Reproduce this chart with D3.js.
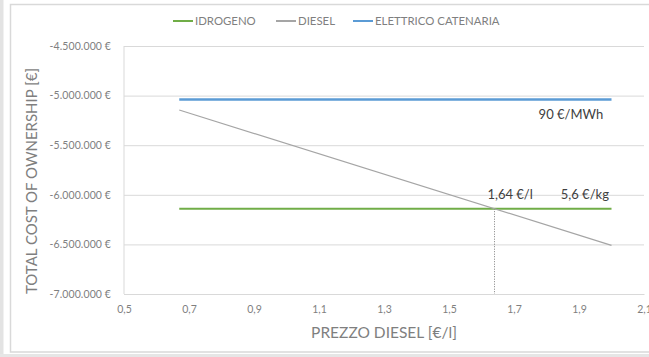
<!DOCTYPE html>
<html>
<head>
<meta charset="utf-8">
<script src="https://cdn.jsdelivr.net/npm/d3@7"></script>
<style>
  html, body { margin: 0; padding: 0; background: #fff; }
  svg { display: block; font-family: Lato, "Open Sans", sans-serif; }
</style>
</head>
<body>
<svg id="chart" width="649" height="357"></svg>
<script>
// Diesel price (€/l) on the x axis, total cost of ownership (€) on the y axis
const seriesNames = ["IDROGENO", "DIESEL", "ELETTRICO CATENARIA"];
const seriesColors = ["#70ad47", "#a5a5a5", "#5b9bd5"];

const idrogenoX = [0.67, 2.0];
const idrogenoY = [-6140000, -6140000];

const dieselX = [0.67, 2.0];
const dieselY = [-5145000, -6510000];

const elettricoX = [0.67, 2.0];
const elettricoY = [-5040000, -5040000];

const xTicks = [0.5, 0.7, 0.9, 1.1, 1.3, 1.5, 1.7, 1.9, 2.1];
const yTicks = [-4500000, -5000000, -5500000, -6000000, -6500000, -7000000];

// Break-even diesel price against hydrogen
const breakEvenX = 1.64;
const breakEvenY = -6140000;

const annotations = [
  { text: "90 €/MWh", x: 1.875, y: -5040000, dy: 19 },
  { text: "1,64 €/l", x: 1.688, y: -6140000, dy: -10 },
  { text: "5,6 €/kg", x: 1.918, y: -6140000, dy: -10 }
];

const locale = d3.formatLocale({
  decimal: ",", thousands: ".", grouping: [3], currency: ["", " €"], minus: "-"
});
const fmtY = locale.format("$,.0f");
const fmtX = locale.format(".1f");

const svg = d3.select("#chart");

// Frame
svg.append("rect").attr("x", 0).attr("y", 0).attr("width", 3.5).attr("height", 357).attr("fill", "#e3e3e3");
svg.append("rect").attr("x", 10.5).attr("y", 4.5).attr("width", 700).attr("height", 347.5)
  .attr("fill", "#fff").attr("stroke", "#d9d9d9").attr("stroke-width", 1.5);
svg.append("rect").attr("x", 0).attr("y", 354).attr("width", 649).attr("height", 3).attr("fill", "#e6e6e6");

const x = d3.scaleLinear().domain([0.5, 2.1]).range([124, 644]);
const y = d3.scaleLinear().domain([-7000000, -4500000]).range([294, 46]);

// Horizontal gridlines with value labels
const gy = svg.append("g").attr("transform", `translate(${x.range()[0]},0)`)
  .call(d3.axisLeft(y).tickValues(yTicks).tickSize(-(x.range()[1] - x.range()[0])).tickPadding(13).tickFormat(fmtY));
gy.select(".domain").remove();
gy.selectAll(".tick line").attr("stroke", "#d9d9d9").attr("stroke-width", 1);
gy.selectAll(".tick text").attr("fill", "#7f7f7f").attr("font-size", "10.5px")
  .attr("font-family", "Lato, sans-serif").attr("letter-spacing", "0.1px");

// Left vertical axis line
svg.append("line").attr("x1", x(0.5)).attr("x2", x(0.5)).attr("y1", y(-4500000)).attr("y2", y(-7000000))
  .attr("stroke", "#d9d9d9").attr("stroke-width", 1);

// X axis
const gx = svg.append("g").attr("transform", `translate(0,${y.range()[0]})`)
  .call(d3.axisBottom(x).tickValues(xTicks).tickSize(0).tickPadding(12).tickFormat(fmtX));
gx.select(".domain").attr("stroke", "#d9d9d9");
gx.selectAll(".tick text").attr("fill", "#7f7f7f").attr("font-size", "10.5px").attr("font-family", "Lato, sans-serif");

// Break-even marker
svg.append("line")
  .attr("x1", x(breakEvenX)).attr("x2", x(breakEvenX))
  .attr("y1", y(breakEvenY)).attr("y2", y(-7000000))
  .attr("stroke", "#7f7f7f").attr("stroke-width", 1).attr("stroke-dasharray", "1,1.5");

// Series lines
const line = d3.line().x(d => x(d[0])).y(d => y(d[1]));
const series = [
  { xs: idrogenoX, ys: idrogenoY, color: seriesColors[0], w: 2 },
  { xs: elettricoX, ys: elettricoY, color: seriesColors[2], w: 2.5 },
  { xs: dieselX, ys: dieselY, color: seriesColors[1], w: 1.2 }
];
series.forEach(s => {
  svg.append("path")
    .datum(d3.zip(s.xs, s.ys))
    .attr("d", line)
    .attr("fill", "none")
    .attr("stroke", s.color)
    .attr("stroke-width", s.w);
});

// Value annotations
svg.append("g").selectAll("text").data(annotations).join("text")
  .attr("x", d => x(d.x)).attr("y", d => y(d.y) + d.dy)
  .attr("text-anchor", "middle")
  .attr("font-size", "13px").attr("fill", "#404040")
  .text(d => d.text);

// Axis titles
svg.append("text")
  .attr("transform", "translate(37,181) rotate(-90)")
  .attr("text-anchor", "middle").attr("font-size", "15px").attr("fill", "#7f7f7f")
  .text("TOTAL COST OF OWNERSHIP [€]");
svg.append("text")
  .attr("x", 384).attr("y", 338)
  .attr("text-anchor", "middle").attr("font-size", "15.5px").attr("fill", "#7f7f7f")
  .text("PREZZO DIESEL [€/l]");

// Legend
const legendX = [173, 276, 353];
const lg = svg.append("g").selectAll("g").data(seriesNames).join("g")
  .attr("transform", (d, i) => `translate(${legendX[i]},21)`);
lg.append("line").attr("x1", 0).attr("x2", 20).attr("y1", 0).attr("y2", 0)
  .attr("stroke", (d, i) => seriesColors[i]).attr("stroke-width", 2);
lg.append("text").attr("x", 22).attr("y", 4).attr("font-size", "11.4px").attr("fill", "#7f7f7f")
  .text(d => d);
</script>
</body>
</html>
